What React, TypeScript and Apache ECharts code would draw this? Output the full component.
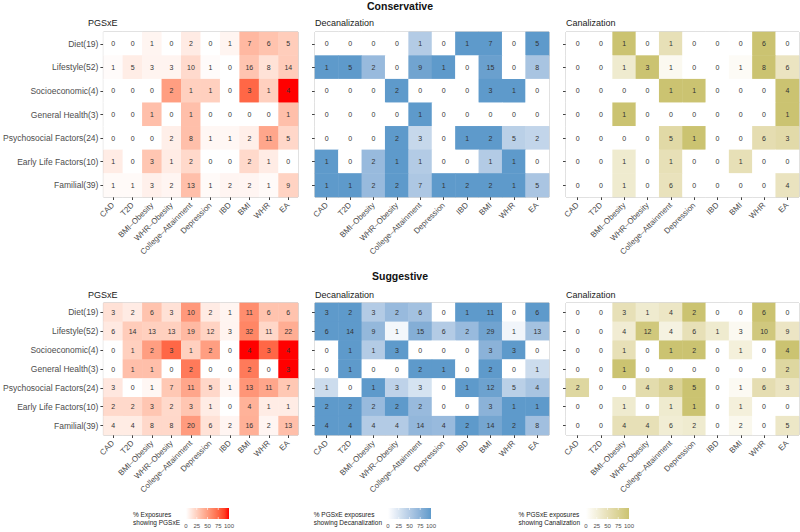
import React, { useEffect, useRef } from "react";
import * as echarts from "echarts";

const diseases = ["CAD", "T2D", "BMI–Obesity", "WHR–Obesity", "College–Attainment", "Depression", "IBD", "BMI", "WHR", "EA"];
const exposureClasses = ["Diet(19)", "Lifestyle(52)", "Socioeconomic(4)", "General Health(3)", "Psychosocial Factors(24)", "Early Life Factors(10)", "Familial(39)"];
const exposureTotals = [19, 52, 4, 3, 24, 10, 39];
const legendTicks = [0, 25, 50, 75, 100];

// Conservative
const consPGSxE = [
  [0, 0, 1, 0, 2, 0, 1, 7, 6, 5],
  [1, 5, 3, 3, 10, 1, 0, 16, 8, 14],
  [0, 0, 0, 2, 1, 1, 0, 3, 1, 4],
  [0, 0, 1, 0, 1, 0, 0, 0, 0, 1],
  [0, 0, 0, 2, 8, 1, 1, 2, 11, 5],
  [1, 0, 3, 1, 2, 0, 0, 2, 1, 0],
  [1, 1, 3, 2, 13, 1, 2, 2, 1, 9],
];
const consDecan = [
  [0, 0, 0, 0, 1, 0, 1, 7, 0, 5],
  [1, 5, 2, 0, 9, 1, 0, 15, 0, 8],
  [0, 0, 0, 2, 0, 0, 0, 3, 1, 0],
  [0, 0, 0, 0, 1, 0, 0, 0, 0, 0],
  [0, 0, 0, 2, 3, 0, 1, 2, 5, 2],
  [1, 0, 2, 1, 1, 0, 0, 1, 1, 0],
  [1, 1, 2, 2, 7, 1, 2, 2, 1, 5],
];
const consCanal = [
  [0, 0, 1, 0, 1, 0, 0, 0, 6, 0],
  [0, 0, 1, 3, 1, 0, 0, 1, 8, 6],
  [0, 0, 0, 0, 1, 1, 0, 0, 0, 4],
  [0, 0, 1, 0, 0, 0, 0, 0, 0, 1],
  [0, 0, 0, 0, 5, 1, 0, 0, 6, 3],
  [0, 0, 1, 0, 1, 0, 0, 1, 0, 0],
  [0, 0, 1, 0, 6, 0, 0, 0, 0, 4],
];
// Suggestive
const sugPGSxE = [
  [3, 2, 6, 3, 10, 2, 1, 11, 6, 6],
  [6, 14, 13, 13, 19, 12, 3, 32, 11, 22],
  [0, 1, 2, 3, 1, 2, 0, 4, 3, 4],
  [0, 1, 1, 0, 2, 0, 0, 2, 0, 3],
  [3, 0, 1, 7, 11, 5, 1, 13, 11, 7],
  [2, 2, 3, 2, 3, 1, 0, 4, 1, 1],
  [4, 4, 8, 8, 20, 6, 2, 16, 2, 13],
];
const sugDecan = [
  [3, 2, 3, 2, 6, 0, 1, 11, 0, 6],
  [6, 14, 9, 1, 15, 6, 2, 29, 1, 13],
  [0, 1, 1, 3, 0, 0, 0, 3, 3, 0],
  [0, 1, 0, 0, 2, 1, 0, 2, 0, 1],
  [1, 0, 1, 3, 3, 0, 1, 12, 5, 4],
  [2, 2, 2, 2, 2, 0, 0, 3, 1, 1],
  [4, 4, 4, 4, 14, 4, 2, 14, 2, 8],
];
const sugCanal = [
  [0, 0, 3, 1, 4, 2, 0, 0, 6, 0],
  [0, 0, 4, 12, 4, 6, 1, 3, 10, 9],
  [0, 0, 1, 0, 1, 2, 0, 1, 0, 4],
  [0, 0, 1, 0, 0, 0, 0, 0, 0, 2],
  [2, 0, 0, 4, 8, 5, 0, 1, 6, 3],
  [0, 0, 1, 0, 1, 1, 0, 1, 0, 0],
  [0, 0, 4, 4, 6, 2, 0, 2, 0, 5],
];

const RED = "#FF0000";
const BLUE = "#5E9ACB";
const KHAKI = "#CBC371";
const FONT = "'Liberation Sans', Arial, sans-serif";

function hexToRgb(h: string) {
  const n = parseInt(h.slice(1), 16);
  return [(n >> 16) & 255, (n >> 8) & 255, n & 255];
}
function toLab(rgb: number[]) {
  const f = (c: number) => { c /= 255; return c <= 0.04045 ? c / 12.92 : Math.pow((c + 0.055) / 1.055, 2.4); };
  const R = f(rgb[0]), G = f(rgb[1]), B = f(rgb[2]);
  const X = (0.4124 * R + 0.3576 * G + 0.1805 * B) / 0.95047;
  const Y = 0.2126 * R + 0.7152 * G + 0.0722 * B;
  const Z = (0.0193 * R + 0.1192 * G + 0.9505 * B) / 1.08883;
  const h = (t: number) => (t > 0.008856 ? Math.cbrt(t) : 7.787 * t + 16 / 116);
  return [116 * h(Y) - 16, 500 * (h(X) - h(Y)), 200 * (h(Y) - h(Z))];
}
function fromLab(lab: number[]) {
  const fy = (lab[0] + 16) / 116, fx = fy + lab[1] / 500, fz = fy - lab[2] / 200;
  const inv = (t: number) => (t * t * t > 0.008856 ? t * t * t : (t - 16 / 116) / 7.787);
  const X = inv(fx) * 0.95047, Y = inv(fy), Z = inv(fz) * 1.08883;
  const lin = [
    3.2406 * X - 1.5372 * Y - 0.4986 * Z,
    -0.9689 * X + 1.8758 * Y + 0.0415 * Z,
    0.0557 * X - 0.204 * Y + 1.057 * Z,
  ];
  const g = lin.map((c) => {
    const v = c <= 0.0031308 ? 12.92 * c : 1.055 * Math.pow(Math.max(c, 0), 1 / 2.4) - 0.055;
    return Math.round(Math.min(1, Math.max(0, v)) * 255);
  });
  return `rgb(${g[0]},${g[1]},${g[2]})`;
}
function labRamp(high: string, n = 11) {
  const a = toLab([255, 255, 255]);
  const b = toLab(hexToRgb(high));
  const out: string[] = [];
  for (let i = 0; i < n; i++) {
    const t = i / (n - 1);
    out.push(fromLab([a[0] + (b[0] - a[0]) * t, a[1] + (b[1] - a[1]) * t, a[2] + (b[2] - a[2]) * t]));
  }
  return out;
}

function buildData(counts: number[][], denom: (r: number, c: number) => number) {
  const d: any[] = [];
  counts.forEach((row, r) =>
    row.forEach((v, c) => {
      const n = denom(r, c);
      const pct = n > 0 ? Math.min(100, (v / n) * 100) : v > 0 ? 100 : 0;
      d.push([c, r, v, pct]);
    })
  );
  return d;
}

function measure(text: string, size: number) {
  const cv = document.createElement("canvas");
  const ctx = cv.getContext("2d");
  if (!ctx) return text.length * size * 0.5;
  ctx.font = `${size}px 'Liberation Sans', Arial, sans-serif`;
  return ctx.measureText(text).width;
}

export default function App() {
  const ref = useRef<HTMLDivElement>(null);
  useEffect(() => {
    if (!ref.current) return;
    const chart = echarts.init(ref.current, null, { renderer: "svg" });

    const redStops = labRamp(RED);
    const blueStops = labRamp(BLUE);
    const khakiStops = labRamp(KHAKI);

    const colsX = [
      { left: 88, width: 210 },
      { left: 315, width: 234 },
      { left: 566, width: 233 },
    ];
    const rowsY = [
      { top: 32, height: 165 },
      { top: 303, height: 132 },
    ];
    const grids: any[] = [];
    rowsY.forEach((ry) =>
      colsX.forEach((cx) =>
        grids.push({ left: cx.left, top: ry.top, width: cx.width, height: ry.height, show: true, borderColor: "#b0b0b0", borderWidth: 1, backgroundColor: "#fff", containLabel: false })
      )
    );

    const xAxes = grids.map((_, i) => ({
      type: "category",
      gridIndex: i,
      data: diseases,
      axisLine: { show: false },
      axisTick: { show: true, alignWithLabel: true, length: 3, lineStyle: { color: "#444" } },
      axisLabel: { rotate: 45, interval: 0, fontSize: 8, color: "#4d4d4d", margin: 7, fontFamily: FONT },
      splitLine: { show: false },
    }));
    const yAxes = grids.map((_, i) => ({
      type: "category",
      gridIndex: i,
      data: exposureClasses,
      inverse: true,
      axisLine: { show: false },
      axisTick: { show: true, alignWithLabel: true, length: 3, lineStyle: { color: "#444" } },
      axisLabel: { show: i % 3 === 0, interval: 0, fontSize: 8.5, color: "#4d4d4d", margin: 5, fontFamily: FONT },
      splitLine: { show: false },
    }));

    const totalDen = (r: number) => exposureTotals[r];
    const panels = [
      buildData(consPGSxE, (r) => totalDen(r)),
      buildData(consDecan, (r, c) => consPGSxE[r][c]),
      buildData(consCanal, (r, c) => consPGSxE[r][c]),
      buildData(sugPGSxE, (r) => totalDen(r)),
      buildData(sugDecan, (r, c) => sugPGSxE[r][c]),
      buildData(sugCanal, (r, c) => sugPGSxE[r][c]),
    ];

    const series = panels.map((data, i) => ({
      type: "heatmap",
      xAxisIndex: i,
      yAxisIndex: i,
      data,
      label: { show: true, formatter: (p: any) => String(p.value[2]), fontSize: 7, color: "#333", fontFamily: FONT },
      emphasis: { disabled: true },
      itemStyle: { borderWidth: 0 },
    }));

    const txt = (text: string, x: number, y: number, size: number, opts: any = {}) => ({
      type: "text",
      x,
      y,
      style: { text, fontSize: size, fill: opts.fill || "#222", fontFamily: FONT, fontWeight: opts.bold ? "bold" : "normal", align: opts.align || "left", verticalAlign: "middle" },
    });

    const graphics: any[] = [
      txt("Conservative", 400, 6, 10.5, { bold: true, align: "center", fill: "#111" }),
      txt("Suggestive", 400, 276, 10.5, { bold: true, align: "center", fill: "#111" }),
    ];
    const subtitles = ["PGSxE", "Decanalization", "Canalization"];
    [23, 295].forEach((y) => colsX.forEach((cx, i) => graphics.push(txt(subtitles[i], cx.left, y, 9, { fill: "#1a1a1a" }))));

    const LEG_FS = 6.5;
    const legends = [
      { lines: ["% Exposures", "showing PGSxE"], x0: 186, x1: 229, color: RED },
      { lines: ["% PGSxE exposures", "showing Decanalization"], x0: 388, x1: 431, color: BLUE },
      { lines: ["% PGSxE exposures", "showing Canalization"], x0: 586, x1: 629, color: KHAKI },
    ];
    legends.forEach((lg) => {
      const w = Math.max(measure(lg.lines[0], LEG_FS), measure(lg.lines[1], LEG_FS));
      const left = lg.x0 - 6 - w;
      graphics.push(txt(lg.lines[0], left, 514.5, LEG_FS));
      graphics.push(txt(lg.lines[1], left, 522.5, LEG_FS));
      const stops = labRamp(lg.color).map((c, i, a) => ({ offset: i / (a.length - 1), color: c }));
      graphics.push({
        type: "rect",
        shape: { x: lg.x0, y: 508, width: lg.x1 - lg.x0, height: 11 },
        style: { fill: { type: "linear", x: 0, y: 0, x2: 1, y2: 0, colorStops: stops } },
      });
      legendTicks.forEach((t) => {
        const x = lg.x0 + ((lg.x1 - lg.x0) * t) / 100;
        if (t > 0 && t < 100) {
          graphics.push({ type: "line", shape: { x1: x, y1: 508, x2: x, y2: 510 }, style: { stroke: "#fff", lineWidth: 0.6 } });
          graphics.push({ type: "line", shape: { x1: x, y1: 517, x2: x, y2: 519 }, style: { stroke: "#fff", lineWidth: 0.6 } });
        }
        graphics.push(txt(String(t), x, 525.5, 6, { align: "center", fill: "#4d4d4d" }));
      });
    });

    chart.setOption({
      animation: false,
      backgroundColor: "#fff",
      grid: grids,
      xAxis: xAxes,
      yAxis: yAxes,
      visualMap: [
        { show: false, type: "continuous", seriesIndex: [0, 3], dimension: 3, min: 0, max: 100, inRange: { color: redStops } },
        { show: false, type: "continuous", seriesIndex: [1, 4], dimension: 3, min: 0, max: 100, inRange: { color: blueStops } },
        { show: false, type: "continuous", seriesIndex: [2, 5], dimension: 3, min: 0, max: 100, inRange: { color: khakiStops } },
      ],
      series,
      graphic: graphics,
    });
    return () => chart.dispose();
  }, []);
  return <div ref={ref} style={{ position: "fixed", left: 0, top: 0, width: 800, height: 532 }} />;
}
